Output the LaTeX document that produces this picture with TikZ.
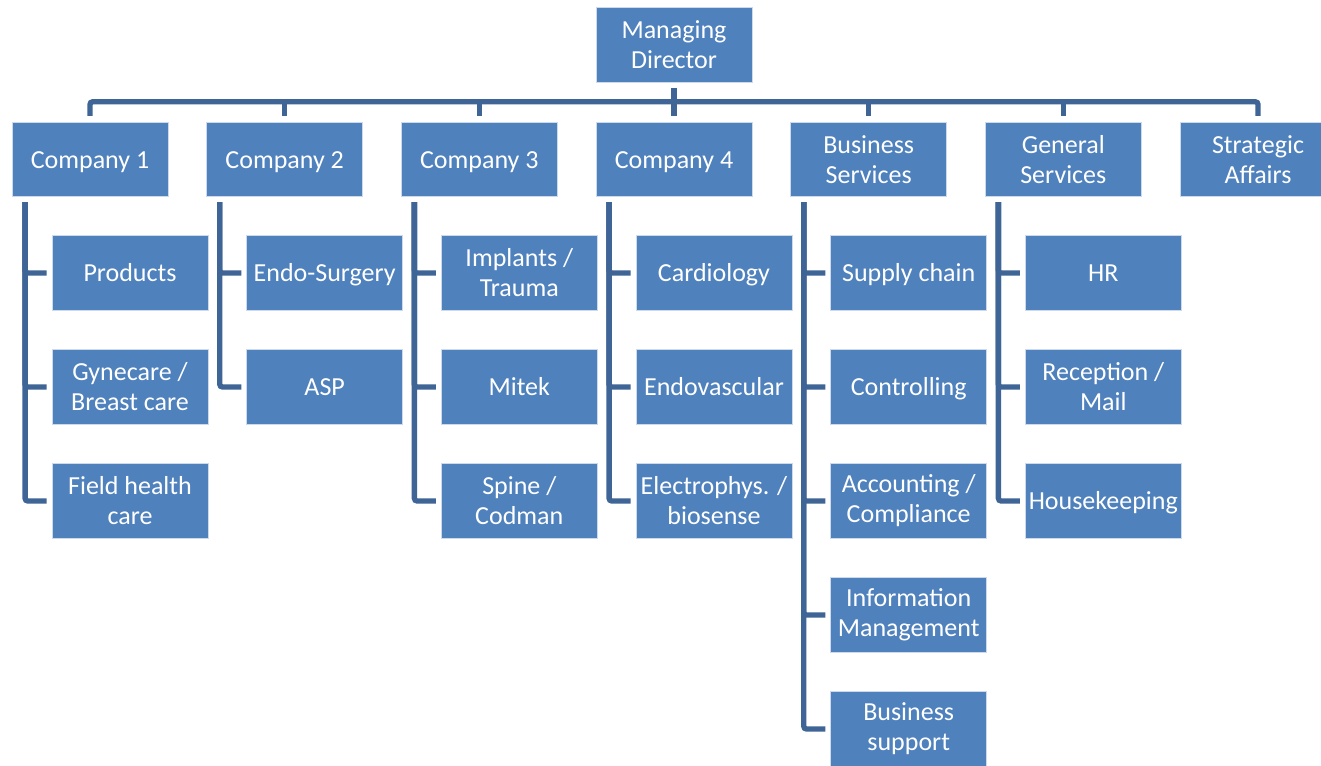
\documentclass[tikz,border=0pt]{standalone}
\usepackage{fontspec}
\setmainfont{Carlito}
\usetikzlibrary{calc}
\definecolor{boxblue}{RGB}{79,129,189}
\definecolor{boxedge}{RGB}{205,218,236}
\definecolor{linkblue}{RGB}{62,101,150}
\tikzset{
  orgbox/.style={rectangle, fill=boxblue, draw=boxedge, line width=0.6pt,
    minimum width=117pt, minimum height=56pt, inner sep=1pt,
    text=white, align=center, font=\fontsize{19.5}{22.5}\selectfont},
  one/.style={text height=17pt, text depth=4pt},
  conn/.style={draw=linkblue, line width=4pt, rounded corners=2pt}
}
\begin{document}
\begin{tikzpicture}[x=0.75pt,y=-0.75pt]
\clip (0,0) rectangle (1321,765);
\fill[white] (0,0) rectangle (1321,765);
% top
\node[orgbox] (md) at (674,45) {Managing\\Director};
\node[orgbox,one] (c1) at (90,159.5) {Company 1};
\node[orgbox,one] (c2) at (284.7,159.5) {Company 2};
\node[orgbox,one] (c3) at (479.3,159.5) {Company 3};
\node[orgbox,one] (c4) at (674,159.5) {Company 4};
\node[orgbox] (c5) at (868.7,159.5) {Business\\Services};
\node[orgbox] (c6) at (1063.3,159.5) {General\\Services};
\node[orgbox] (c7) at (1258,159.5) {Strategic\\Affairs};
% children
\node[orgbox,one] (a1) at (130,273) {Products};
\node[orgbox] (a2) at (130,387) {Gynecare /\\Breast care};
\node[orgbox] (a3) at (130,501) {Field health\\care};
\node[orgbox,one] (b1) at (324.7,273) {Endo-Surgery};
\node[orgbox,one] (b2) at (324.7,387) {ASP};
\node[orgbox] (d1) at (519.3,273) {Implants /\\Trauma};
\node[orgbox,one] (d2) at (519.3,387) {Mitek};
\node[orgbox] (d3) at (519.3,501) {Spine /\\Codman};
\node[orgbox,one] (e1) at (714,273) {Cardiology};
\node[orgbox,one] (e2) at (714,387) {Endovascular};
\node[orgbox] (e3) at (714,501) {Electrophys. /\\biosense};
\node[orgbox,one] (f1) at (908.7,273) {Supply chain};
\node[orgbox,one] (f2) at (908.7,387) {Controlling};
\node[orgbox] (f3) at (908.7,501) {Accounting /\\Compliance};
\node[orgbox] (f4) at (908.7,615) {Information\\Management};
\node[orgbox] (f5) at (908.7,729) {Business\\support};
\node[orgbox,one] (g1) at (1103.3,273) {HR};
\node[orgbox] (g2) at (1103.3,387) {Reception /\\Mail};
\node[orgbox,one] (g3) at (1103.3,501) {Housekeeping};
% bus
\draw[conn] ($(md.south)+(0,5)$) -- ($(c4.north)+(0,-6)$);
\draw[conn] ($(c1.north)+(0,-6)$) -- ++(0,-14) -- ($(c7.north)+(0,-20)$) -- ($(c7.north)+(0,-6)$);
\foreach \c in {c2,c3,c5,c6}{
  \draw[conn] ($(\c.north)+(0,-6)$) -- ++(0,-14);
}
% branches
\foreach \p/\kids/\last in {c1/{a1,a2}/a3, c2/{b1}/b2, c3/{d1,d2}/d3, c4/{e1,e2}/e3, c5/{f1,f2,f3,f4}/f5, c6/{g1,g2}/g3}{
  \draw[conn] ($(\p.south west)+(13.5,5)$) |- ($(\last.west)+(-5,0)$);
  \foreach \k in \kids {
    \draw[conn] ($(\p.south west)+(13.5,5)$) |- ($(\k.west)+(-5,0)$);
  }
}
\end{tikzpicture}
\end{document}
